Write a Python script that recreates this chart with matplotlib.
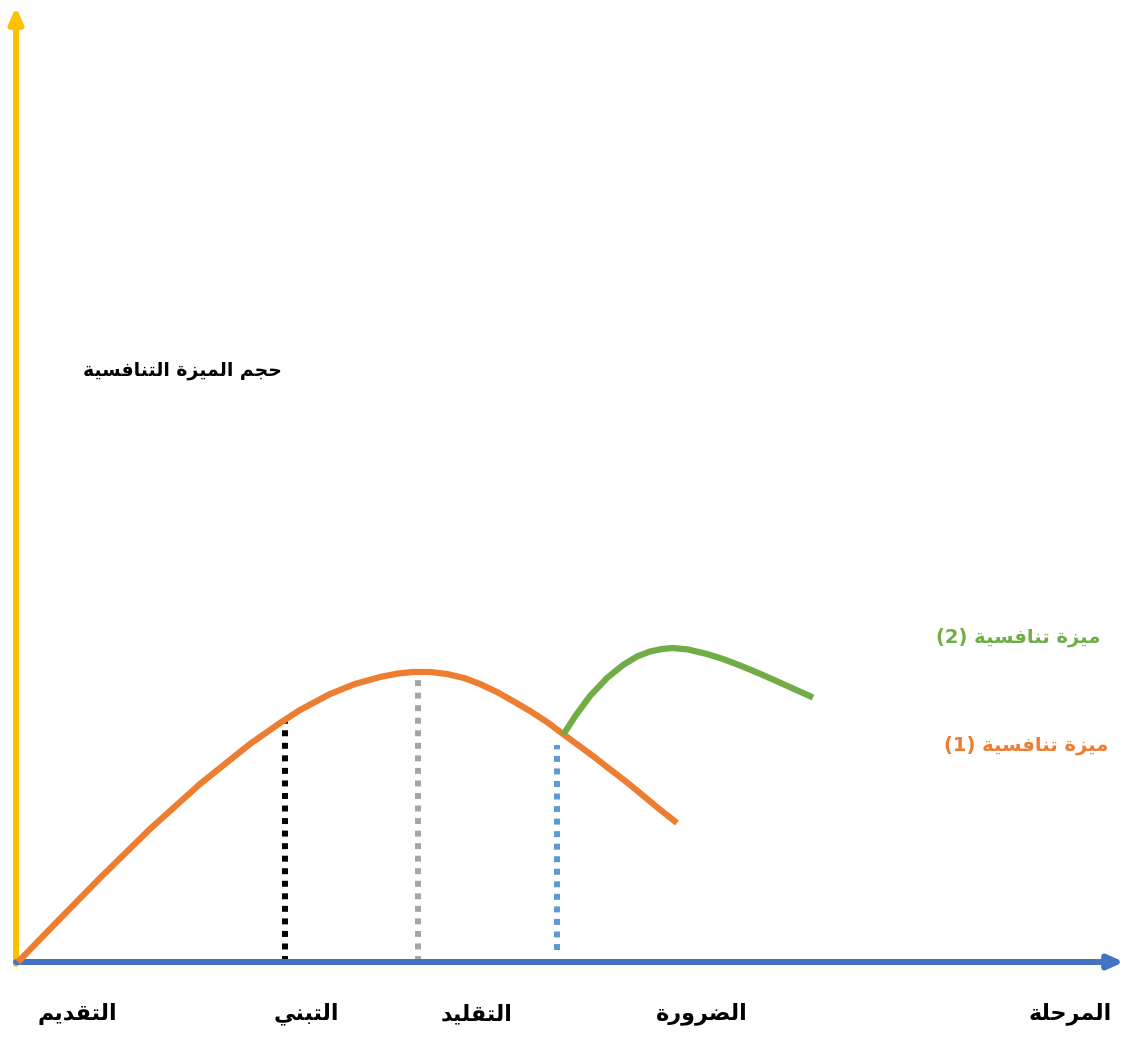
import matplotlib
matplotlib.use("Agg")
import matplotlib.pyplot as plt

# Arabic letters -> (isolated form in Presentation Forms-B, joins to the next letter?)
FORMS = {
    'ا': (0xFE8D, False), 'ب': (0xFE8F, True), 'ة': (0xFE93, False),
    'ت': (0xFE95, True), 'ج': (0xFE9D, True), 'ح': (0xFEA1, True),
    'د': (0xFEA9, False), 'ر': (0xFEAD, False), 'ز': (0xFEAF, False),
    'س': (0xFEB1, True), 'ض': (0xFEBD, True), 'ف': (0xFED1, True),
    'ق': (0xFED5, True), 'ل': (0xFEDD, True), 'م': (0xFEE1, True),
    'ن': (0xFEE5, True), 'و': (0xFEED, False), 'ي': (0xFEF1, True),
}


def rtl(text):
    """Shape Arabic letters and return them in visual (left-to-right) order."""
    out = []
    for i, ch in enumerate(text):
        if ch not in FORMS:
            out.append(ch)
            continue
        base, dual = FORMS[ch]
        prev = text[i - 1] if i > 0 else ' '
        nxt = text[i + 1] if i + 1 < len(text) else ' '
        join_prev = prev in FORMS and FORMS[prev][1]
        join_next = dual and nxt in FORMS
        if join_prev and join_next:
            code = base + 3
        elif join_prev:
            code = base + 1
        elif join_next:
            code = base + 2
        else:
            code = base
        out.append(chr(code))
    return ''.join(reversed(out))


# curve of the first advantage (x = stage position, y = size)
adv1_x = [0, 32, 82, 132, 182, 232, 262, 282, 312, 337, 362, 380, 395, 412,
          429, 446, 462, 479, 495, 512, 529, 545, 560, 575, 589, 606, 622, 640, 659]
adv1_y = [0, 33, 84, 133, 178, 218, 239, 252, 268, 278, 285, 288.5, 290, 290,
          288, 284, 278, 270, 261, 251, 240, 228, 217, 206, 195, 182, 169, 154, 139]

# curve of the second advantage
adv2_x = [545, 558, 572, 589, 605, 619, 632, 644, 655, 670, 689, 705, 722, 739, 755, 775, 795]
adv2_y = [227, 247, 266, 284, 297, 305.5, 310.5, 313, 314, 312.5, 308, 303, 296.5, 289.5, 282.5, 273.5, 264.5]

# dotted markers down to the axis
marks_x = [267, 400, 539]
marks_top = [243, 292, 217]
marks_bottom = [0, 0, 12]
marks_color = ['#000000', '#A5A5A5', '#5B9BD5']

stage_names = ['التقديم', 'التبني', 'التقليد', 'الضرورة', 'المرحلة']
stage_pos = [59, 288, 459, 684, 1052]

y_title = 'حجم الميزة التنافسية'
adv_name = 'ميزة تنافسية'

fig = plt.figure(figsize=(11.24, 10.38), dpi=100)
ax = fig.add_axes([0, 0, 1, 1])
ax.set_xlim(-18, 1106)
ax.set_ylim(-76, 962)
ax.axis('off')

# axes arrows
ax.annotate('', xy=(-2, 955), xytext=(-2, -2),
            arrowprops=dict(arrowstyle='-|>,head_length=0.9,head_width=0.4',
                            lw=4.3, color='#FFC000', shrinkA=0, shrinkB=0))
ax.annotate('', xy=(1106, 0), xytext=(-2, 0),
            arrowprops=dict(arrowstyle='-|>,head_length=0.9,head_width=0.4',
                            lw=4.3, color='#4472C4', shrinkA=0, shrinkB=0))

for x, top, bot, c in zip(marks_x, marks_top, marks_bottom, marks_color):
    ax.plot([x, x], [bot, top], color=c, lw=4.3, linestyle=(0, (1, 1.1)),
            dash_capstyle='butt', zorder=2)

ax.plot(adv1_x, adv1_y, color='#ED7D31', lw=4.5, solid_capstyle='butt',
        solid_joinstyle='round', zorder=3)
ax.plot(adv2_x, adv2_y, color='#70AD47', lw=4.5, solid_capstyle='butt',
        solid_joinstyle='round', zorder=4)

font = dict(family=['DejaVu Sans'], fontweight='bold')

ax.text(164, 592, rtl(y_title), ha='center', va='center', fontsize=13.5,
        color='black', **font)

for name, x in zip(stage_names, stage_pos):
    ax.text(x, -52, rtl(name), ha='center', va='center', fontsize=16,
            color='black', **font)

ax.text(1082, 325, '(2) ' + rtl(adv_name), ha='right', va='center',
        fontsize=14, color='#70AD47', **font)
ax.text(1090, 217, '(1) ' + rtl(adv_name), ha='right', va='center',
        fontsize=14, color='#ED7D31', **font)

fig.savefig('out.png', dpi=100)
